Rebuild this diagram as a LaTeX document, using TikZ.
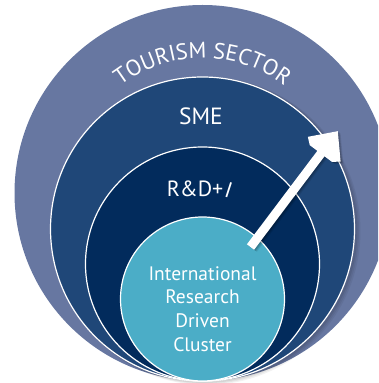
\documentclass[tikz,border=0pt]{standalone}
\usepackage{fontspec}
\setmainfont{PT Sans}
\usetikzlibrary{decorations.text}
\definecolor{outerc}{RGB}{103,119,161}
\definecolor{smec}{RGB}{31,71,120}
\definecolor{rdc}{RGB}{2,43,92}
\definecolor{innerc}{RGB}{75,173,199}
\begin{document}
\begin{tikzpicture}[x=1pt,y=1pt,
  ring/.style={draw=white, line width=1.2pt},
  lbl/.style={text=white, inner sep=0pt, align=center}]
\useasboundingbox (0,0) rectangle (378,383);
\clip (0,0) rectangle (378,383);
% outer ring
\fill[outerc] (202.5,190) circle (188);
% soft shadow of SME circle
\foreach \k/\o in {4/0.05,3/0.06,2/0.07}{
  \fill[black, opacity=\o] (202.5+\k,154-\k*0.5) circle (152+\k*0.5);
}
\filldraw[fill=smec, ring] (202.5,154) circle (152);
\filldraw[fill=rdc, ring] (202.5,119) circle (117);
\filldraw[fill=innerc, ring] (202.5,84) circle (82);
% curved title
\path[decorate, decoration={text along path, text align=center,
  text={|\fontsize{22.5}{22.5}\selectfont\color{white}|TOURISM SECTOR}}]
  (202.5,190) ++(132:135) arc[start angle=132, end angle=48, radius=135];
% labels
\node[lbl, font=\fontsize{23.5}{23.5}\selectfont] (sme) at (201,267) {SME};
\node[lbl, font=\fontsize{22}{22}\selectfont] (rdi) at (200.5,193) {R\&D+\rotatebox{-18}{I}};
\node[lbl, font=\fontsize{19.5}{23.7}\selectfont] (irdc) at (202.5,74) {International\\Research\\Driven\\Cluster};
% arrow
\begin{scope}[shift={(250.5,136)}, rotate=53]
  \foreach \k/\o in {3.5/0.08,2.5/0.1,1.5/0.12}{
  \fill[black, opacity=\o, shift={(0,-\k)}]
    (0,-4.5) -- (117,-4.5) -- (117,-14) -- (122.5,-20.5) -- (145,0)
    -- (122.5,20.5) -- (117,14) -- (117,4.5) -- (0,4.5) -- cycle;
  }
  \fill[white]
    (0,-4.5) -- (117,-4.5) -- (117,-14) -- (122.5,-20.5) -- (145,0)
    -- (122.5,20.5) -- (117,14) -- (117,4.5) -- (0,4.5) -- cycle;
\end{scope}
\end{tikzpicture}
\end{document}
